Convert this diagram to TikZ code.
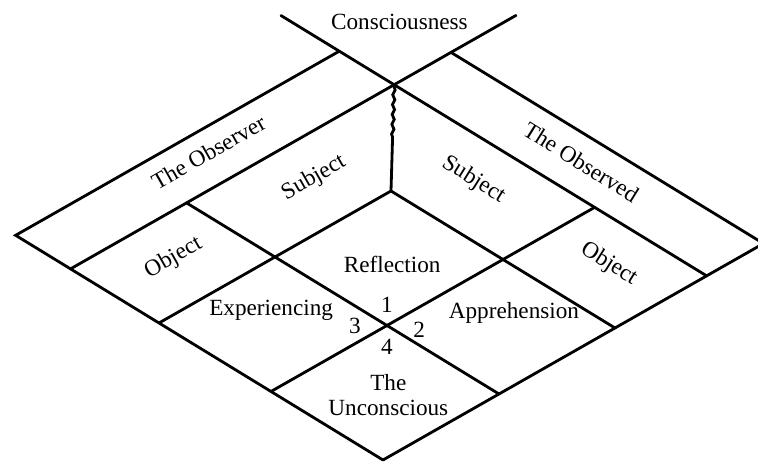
\documentclass[tikz,border=0pt]{standalone}
\usepackage{fontspec}
\setmainfont{Liberation Serif}
\usetikzlibrary{positioning,decorations.pathmorphing}
\tikzset{
	gridline/.style={draw=black,line width=2pt,line cap=round},
	wavy/.style={gridline,decorate,decoration={snake,amplitude=0.8pt,segment length=7pt}},
	lab/.style={font=\fontsize{16.5}{17.5}\selectfont,inner sep=0pt,align=center},
	num/.style={lab},
}

\begin{document}
\begin{tikzpicture}[x={(-2.8cm,1.7125cm)},y={(2.9cm,1.65cm)}]
	\useasboundingbox (-9.575cm,-0.05cm) rectangle (9.375cm,11.5cm);
	\coordinate (z) at (0,0);
	\coordinate (l1) at (1,0);
	\coordinate (l2) at (2,0);
	\coordinate (l3) at (2.79,0);
	\coordinate (l4) at (3.28,0);
	\coordinate (r1) at (0,1);
	\coordinate (r2) at (0,2);
	\coordinate (r3) at (0,2.79);
	\coordinate (r4) at (0,3.28);
	\coordinate (o) at (1,1);
	\coordinate (inner) at (2,2);
	\coordinate (wave) at (2.4,2.4);
	\coordinate (apex) at (2.79,2.79);
	\coordinate (obsL) at (3.28,2.79);
	\coordinate (obsR) at (2.79,3.28);
	\coordinate (lq1) at (2.79,1);
	\coordinate (rp1) at (1,2.79);
	\coordinate (conL) at (3.8,2.79);
	\coordinate (conR) at (2.79,3.84);
	\draw[gridline] (z) -- (l4) -- (obsL);
	\draw[gridline] (z) -- (r4) -- (obsR);
	\draw[gridline] (r1) -- (lq1);
	\draw[gridline] (r2) -- (inner);
	\draw[gridline] (l1) -- (rp1);
	\draw[gridline] (l2) -- (inner);
	\draw[gridline] (l3) -- (conR);
	\draw[gridline] (r3) -- (conL);
	\draw[gridline] (inner) -- (wave);
	\draw[wavy] (wave) -- (apex);
	\node[lab] (consc) at (3.24,3.27) {Consciousness};
	\node[lab,rotate=29.6] (observer) at (3.08,1.47) {The Observer};
	\node[lab,rotate=29.6] (subjL) at (2.43,1.75) {Subject};
	\node[lab,rotate=29.6] (objL) at (2.43,0.54) {Object};
	\node[lab,rotate=-32] (observed) at (1.40,3.06) {The Observed};
	\node[lab,rotate=-32] (subjR) at (1.73,2.45) {Subject};
	\node[lab,rotate=-32] (objR) at (0.51,2.44) {Object};
	\node[lab] (refl) at (1.44,1.47) {Reflection};
	\node[lab] (exper) at (1.61,0.59) {Experiencing};
	\node[lab] (appre) at (0.55,1.66) {Apprehension};
	\node[lab] (uncon) at (0.47,0.50) {The\\Unconscious};
	\node[num,above=0.31cm of o] (n1) {1};
	\node[num,right=0.65cm of o,yshift=-0.1cm] (n2) {2};
	\node[num,left=0.65cm of o] (n3) {3};
	\node[num,below=0.34cm of o] (n4) {4};
\end{tikzpicture}
\end{document}
